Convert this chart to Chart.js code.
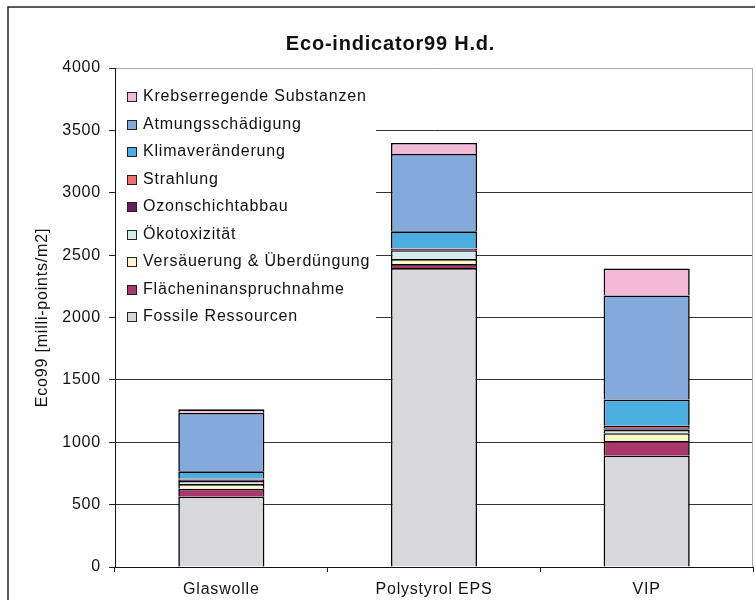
<!DOCTYPE html>
<html lang="de">
<head>
<meta charset="utf-8">
<title>Eco-indicator99 H.d.</title>
<script src="https://cdn.jsdelivr.net/npm/chart.js@4/dist/chart.umd.min.js"></script>
<style>
	html, body { margin: 0; padding: 0; background: #fff; }
	#wrap { width: 755px; height: 600px; }
</style>
</head>
<body>
<div id="wrap"><canvas id="ecoChart" width="755" height="600"></canvas></div>
<script>
// données (milli-points/m2)
const categories = ["Glaswolle", "Polystyrol EPS", "VIP"];
const fossile = [563, 2396, 892];
const flaechen = [64, 32, 118];
const versaeuerung = [38, 40, 62];
const oekotox = [25, 72, 28];
const ozon = [10, 12, 12];
const strahlung = [8, 4, 21];
const klima = [59, 135, 209];
const atmung = [469, 620, 835];
const krebs = [28, 88, 216];

const yMin = 0;
const yMax = 4000;
const yStep = 500;

const seriesLabels = [
	"Fossile Ressourcen",
	"Flächeninanspruchnahme",
	"Versäuerung & Überdüngung",
	"Ökotoxizität",
	"Ozonschichtabbau",
	"Strahlung",
	"Klimaveränderung",
	"Atmungsschädigung",
	"Krebserregende Substanzen",
];
const seriesValues = [fossile, flaechen, versaeuerung, oekotox, ozon, strahlung, klima, atmung, krebs];
const seriesColors = [
	"#d8d8da",
	"#aa3769",
	"#faf7c8",
	"#d4ecf0",
	"#6e195f",
	"#ef6f6f",
	"#4aaee2",
	"#84a9db",
	"#f4b9d6",
];

const FONT = "'Liberation Sans', Arial, sans-serif";
const SPACING = "0.8px";

/**
 * plugin qui gère le cadre, la légende et l'espacement du texte
 */
const excelLook = {
	id: "excelLook",
	beforeLayout(chart) {
		chart.ctx.letterSpacing = SPACING;
	},
	beforeDraw(chart) {
		const ctx = chart.ctx;
		ctx.letterSpacing = SPACING;
		ctx.save();
		ctx.fillStyle = "#fff";
		ctx.fillRect(0, 0, chart.width, chart.height);
		ctx.restore();
	},
	afterDatasetsDraw(chart) {
		const ctx = chart.ctx;
		const area = chart.chartArea;
		ctx.save();
		// fond blanc de la légende (cache les lignes de grille)
		ctx.fillStyle = "#fff";
		ctx.fillRect(area.left + 1, area.top + 4, 260, 258);

		ctx.font = "16px " + FONT;
		ctx.textBaseline = "middle";
		ctx.textAlign = "left";
		const items = chart.data.datasets.slice().reverse();
		items.forEach((ds, i) => {
			const y = 97 + i * 27.5;
			ctx.fillStyle = ds.backgroundColor;
			ctx.fillRect(127.5, Math.round(y) - 4.5, 9, 9);
			ctx.strokeStyle = "#222";
			ctx.lineWidth = 1;
			ctx.strokeRect(127.5, Math.round(y) - 4.5, 9, 9);
			ctx.fillStyle = "#111";
			ctx.fillText(ds.label, 143, y);
		});
		ctx.restore();
	},
	afterDraw(chart) {
		const ctx = chart.ctx;
		const area = chart.chartArea;
		ctx.save();
		// bord droit gris de la zone de traçage
		ctx.strokeStyle = "#a8a8a8";
		ctx.lineWidth = 1;
		ctx.beginPath();
		ctx.moveTo(area.right - 0.5, area.top);
		ctx.lineTo(area.right - 0.5, area.bottom);
		ctx.stroke();
		// cadre extérieur
		ctx.strokeStyle = "#222";
		ctx.lineWidth = 1.5;
		ctx.strokeRect(8, 7, 800, 620);
		ctx.restore();
	},
};

const datasets = seriesLabels.map((label, i) => ({
	label: label,
	data: seriesValues[i],
	backgroundColor: seriesColors[i],
	borderColor: "#000",
	borderWidth: 1.6,
	barPercentage: 0.405,
	categoryPercentage: 1,
}));

new Chart(document.getElementById("ecoChart"), {
	type: "bar",
	data: {
		labels: categories,
		datasets: datasets,
	},
	options: {
		responsive: false,
		animation: false,
		layout: {
			padding: { top: 0, left: 28, right: 2, bottom: 0 },
		},
		plugins: {
			legend: { display: false },
			tooltip: { enabled: false },
			title: {
				display: true,
				text: "Eco-indicator99 H.d.",
				color: "#111",
				font: { family: FONT, size: 20, weight: "bold", lineHeight: 1.2 },
				padding: { top: 32, bottom: 12 },
			},
		},
		scales: {
			x: {
				stacked: true,
				afterFit: (scale) => {
					scale.height = 33;
				},
				grid: {
					display: true,
					drawOnChartArea: false,
					offset: true,
					tickLength: 5,
					color: "#222",
				},
				border: { color: "#111", width: 1 },
				ticks: {
					color: "#111",
					padding: 8,
					font: { family: FONT, size: 16 },
				},
			},
			y: {
				stacked: true,
				min: yMin,
				max: yMax,
				afterFit: (scale) => {
					scale.width = 87;
				},
				ticks: {
					stepSize: yStep,
					color: "#111",
					padding: 8,
					font: { family: FONT, size: 16 },
					callback: (value) => String(value),
				},
				grid: {
					color: (c) => (c.tick && c.tick.value === yMax ? "#a8a8a8" : "#333"),
					tickColor: "#222",
					tickLength: 6,
					lineWidth: 1,
				},
				border: { color: "#111", width: 1 },
				title: {
					display: true,
					text: "Eco99 [milli-points/m2]",
					color: "#111",
					font: { family: FONT, size: 16 },
					padding: { top: 5, bottom: 0 },
				},
			},
		},
	},
	plugins: [excelLook],
});
</script>
</body>
</html>
